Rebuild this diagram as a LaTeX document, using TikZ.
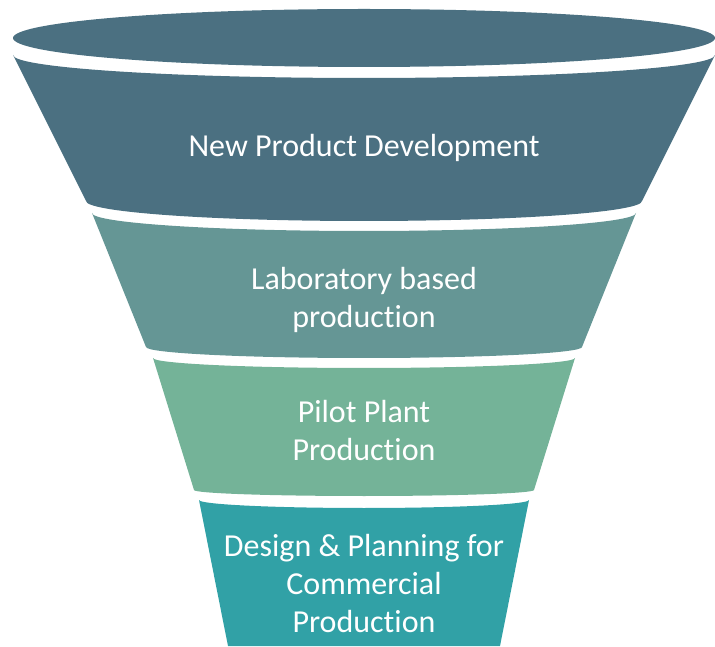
\documentclass[tikz,border=0pt]{standalone}
\usepackage{fontspec}
\setmainfont{Carlito}[Ligatures={NoCommon,NoRequired,NoContextual},Contextuals=NoAlternate]
\definecolor{funnelA}{RGB}{75,112,129}
\definecolor{funnelB}{RGB}{101,150,149}
\definecolor{funnelC}{RGB}{116,179,152}
\definecolor{funnelD}{RGB}{49,161,166}
\begin{document}
\begin{tikzpicture}[x=1pt,y=1pt,stage/.style={text=white,align=center,inner sep=0pt,font=\fontsize{32}{38}\selectfont}]
	\useasboundingbox (0,0) rectangle (715,646) ;
	\fill[funnelA] (364,608) ellipse[x radius=351,y radius=29] ;
	\fill[funnelA] (13,591) arc[start angle=180,end angle=360,x radius=351,y radius=23] -- (642,445) arc[start angle=0,end angle=-180,x radius=278,y radius=20] -- cycle ;
	\fill[funnelB] (92,433) arc[start angle=180,end angle=360,x radius=272,y radius=18] -- (582,299) arc[start angle=0,end angle=-180,x radius=218,y radius=11] -- cycle ;
	\fill[funnelC] (153,288) arc[start angle=180,end angle=360,x radius=211,y radius=10] -- (534,156) arc[start angle=0,end angle=-180,x radius=170,y radius=6] -- cycle ;
	\fill[funnelD] (199,146) arc[start angle=180,end angle=360,x radius=165,y radius=8] -- (500,0) -- (228,0) -- cycle ;
	\node[stage] (npd) at (364,498) {New Product Development} ;
	\node[stage] (lab) at (364,346) {Laboratory based\\production} ;
	\node[stage] (pilot) at (364,215) {Pilot Plant\\Production} ;
	\node[stage] (design) at (364,62) {Design \& Planning for\\Commercial\\Production} ;
\end{tikzpicture}
\end{document}
